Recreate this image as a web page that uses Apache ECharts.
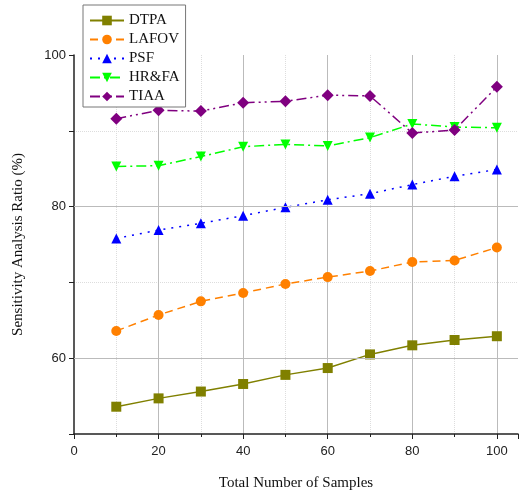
<!DOCTYPE html>
<html>
<head>
<meta charset="utf-8">
<script src="https://cdn.jsdelivr.net/npm/echarts@6/dist/echarts.min.js"></script>
<style>
  html, body { margin: 0; padding: 0; background: #fff; }
  #chart { width: 522px; height: 497px; }
</style>
</head>
<body>
<div id="chart"></div>
<script>
const samples = [10, 20, 30, 40, 50, 60, 70, 80, 90, 100]
const dtpa = [53.6, 54.7, 55.6, 56.6, 57.8, 58.7, 60.5, 61.7, 62.4, 62.9]
const lafov = [63.6, 65.7, 67.5, 68.6, 69.8, 70.7, 71.5, 72.7, 72.9, 74.6]
const psf = [75.8, 76.9, 77.8, 78.8, 79.9, 80.9, 81.7, 82.9, 84.0, 84.9]
const hrfa = [85.3, 85.4, 86.6, 87.9, 88.2, 88.0, 89.1, 90.9, 90.5, 90.4]
const tiaa = [91.6, 92.7, 92.6, 93.7, 93.9, 94.7, 94.6, 89.7, 90.1, 95.8]
const majorY = [60, 80]

const serif = '"Liberation Serif", "DejaVu Serif", serif'
const sans = '"Liberation Sans", Arial, sans-serif'

const pairs = (ys) => samples.map((x, i) => [x, ys[i]])

const mkSeries = (name, ys, color, symbol, dash, extra = {}) => ({
  name,
  type: 'line',
  data: pairs(ys),
  color,
  symbol,
  symbolSize: 10,
  z: 3,
  lineStyle: { width: 1.5, type: dash },
  itemStyle: { color },
  ...extra
})

const chart = echarts.init(document.getElementById('chart'))

chart.setOption({
  animation: false,
  grid: { left: 74, right: 4, top: 55, bottom: 63 },
  legend: {
    orient: 'vertical',
    left: 83,
    top: 5,
    padding: [8, 6, 3, 6],
    itemWidth: 34,
    itemHeight: 12,
    itemGap: 4,
    backgroundColor: '#fff',
    borderColor: '#777',
    borderWidth: 1,
    textStyle: { fontFamily: serif, fontSize: 15, color: '#111' },
    data: ['DTPA', 'LAFOV', 'PSF', 'HR&FA', 'TIAA']
  },
  xAxis: {
    type: 'value',
    min: 0,
    max: 105,
    interval: 20,
    name: 'Total Number of Samples',
    nameLocation: 'middle',
    nameGap: 42,
    nameTextStyle: { fontFamily: serif, fontSize: 15, color: '#111' },
    axisLine: { show: true, onZero: false, lineStyle: { color: '#222', width: 1.5 } },
    axisTick: { show: true, length: 5, lineStyle: { color: '#222' } },
    minorTick: { show: true, splitNumber: 2, length: 3, lineStyle: { color: '#222' } },
    axisLabel: {
      fontFamily: sans, fontSize: 13, color: '#222', margin: 11,
      formatter: (v) => (v > 100 ? '' : v)
    },
    splitLine: { show: true, showMinLine: false, showMaxLine: false, lineStyle: { color: '#bbb', width: 1 } },
    minorSplitLine: { show: true, lineStyle: { color: '#ddd', type: 'dotted', width: 1 } }
  },
  yAxis: {
    type: 'value',
    min: 50,
    max: 100,
    interval: 10,
    name: 'Sensitivity Analysis Ratio (%)',
    nameLocation: 'middle',
    nameGap: 48,
    nameTextStyle: { fontFamily: serif, fontSize: 15, color: '#111' },
    axisLine: { show: true, lineStyle: { color: '#222', width: 1.5 } },
    axisTick: { show: true, length: 5, lineStyle: { color: '#222' } },
    axisLabel: {
      fontFamily: sans, fontSize: 13, color: '#222', margin: 8,
      formatter: (v) => (v % 20 === 0 ? v : '')
    },
    splitLine: {
      show: true, showMinLine: false, showMaxLine: false,
      lineStyle: { color: '#ddd', type: 'dotted', width: 1 }
    }
  },
  series: [
    {
      type: 'line',
      data: [],
      z: 1,
      silent: true,
      markLine: {
        silent: true,
        symbol: 'none',
        label: { show: false },
        lineStyle: { color: '#bbb', type: 'solid', width: 1 },
        data: majorY.map((v) => ({ yAxis: v }))
      }
    },
    mkSeries('DTPA', dtpa, '#808000', 'rect', 'solid'),
    mkSeries('LAFOV', lafov, '#ff8000', 'circle', [8, 5]),
    mkSeries('PSF', psf, '#0000ff', 'triangle', [2, 6]),
    mkSeries('HR&FA', hrfa, '#00ff00', 'triangle', [10, 4, 2, 4], { symbolRotate: 180 }),
    mkSeries('TIAA', tiaa, '#800080', 'diamond', [10, 4, 2, 4, 2, 4], { symbolSize: 12 })
  ]
})
</script>
</body>
</html>
